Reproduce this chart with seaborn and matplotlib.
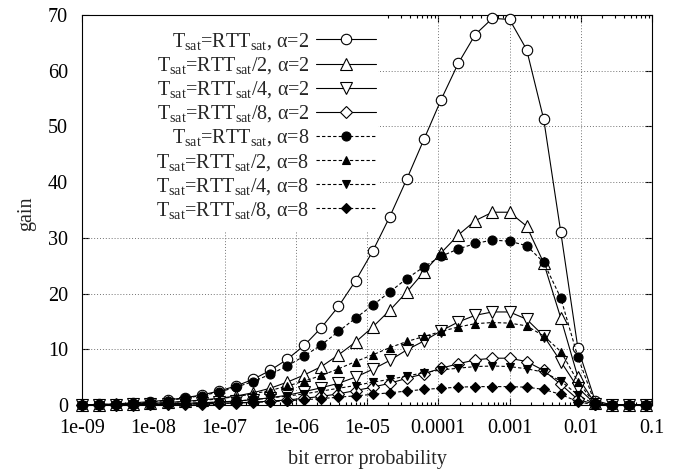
import matplotlib
matplotlib.use("Agg")
import matplotlib.pyplot as plt
import seaborn as sns
import numpy as np
from matplotlib.ticker import LogLocator, NullFormatter, FixedLocator
from matplotlib.patches import Rectangle

# ---------------- data ----------------
ber = [1e-9, 1.738e-9, 3.02e-9, 5.25e-9, 9.12e-9, 1.585e-8, 2.754e-8, 4.786e-8,
       8.318e-8, 1.445e-7, 2.512e-7, 4.365e-7, 7.586e-7, 1.318e-6, 2.291e-6,
       3.981e-6, 6.918e-6, 1.202e-5, 2.089e-5, 3.631e-5, 6.31e-5, 1.096e-4,
       1.905e-4, 3.311e-4, 5.754e-4, 1e-3, 1.738e-3, 3.02e-3, 5.248e-3,
       9.12e-3, 1.585e-2, 2.754e-2, 4.786e-2, 8.318e-2]

gain_a2_t1 = [0, 0.1, 0.2, 0.4, 0.6, 0.9, 1.3, 1.8, 2.5, 3.4, 4.6, 6.2, 8.2, 10.7,
              13.9, 17.7, 22.3, 27.6, 33.8, 40.6, 47.7, 54.8, 61.3, 66.5, 69.4,
              69.2, 63.8, 51.3, 31.0, 10.2, 0.8, 0, 0, 0]
gain_a2_t2 = [0, 0.05, 0.1, 0.2, 0.3, 0.45, 0.65, 0.9, 1.2, 1.6, 2.2, 3.0, 4.1,
              5.4, 6.9, 9.0, 11.3, 14.0, 17.0, 20.3, 23.9, 27.3, 30.5, 33.1, 34.6,
              34.6, 32.1, 25.5, 15.6, 5.0, 0.3, 0, 0, 0]
gain_a2_t4 = [0, 0, 0.05, 0.1, 0.15, 0.2, 0.3, 0.4, 0.55, 0.7, 0.95, 1.3, 1.75,
              2.4, 3.1, 3.9, 5.0, 6.4, 8.0, 9.9, 11.5, 13.3, 14.9, 16.1, 16.7,
              16.7, 15.4, 12.4, 7.8, 3.1, 0.2, 0, 0, 0]
gain_a2_t8 = [0, 0, 0, 0.05, 0.1, 0.1, 0.15, 0.2, 0.3, 0.4, 0.5, 0.7, 0.9, 1.2,
              1.55, 2.0, 2.6, 3.2, 3.9, 4.8, 5.6, 6.6, 7.4, 8.1, 8.4, 8.4, 7.8,
              6.2, 3.7, 1.0, 0.1, 0, 0, 0]
gain_a8_t1 = [0, 0.1, 0.15, 0.3, 0.5, 0.8, 1.2, 1.7, 2.3, 3.2, 4.2, 5.5, 7.0, 8.8,
              10.8, 13.2, 15.6, 17.9, 20.3, 22.7, 24.8, 26.7, 28.0, 29.0, 29.6,
              29.4, 28.6, 25.6, 19.2, 8.6, 0.3, 0, 0, 0]
gain_a8_t2 = [0, 0.05, 0.1, 0.15, 0.25, 0.4, 0.6, 0.8, 1.1, 1.5, 2.0, 2.6, 3.4,
              4.3, 5.3, 6.5, 7.8, 9.0, 10.3, 11.4, 12.3, 13.2, 14.0, 14.6, 14.8,
              14.7, 14.2, 12.4, 9.6, 4.2, 0.2, 0, 0, 0]
gain_a8_t4 = [0, 0, 0.05, 0.1, 0.15, 0.2, 0.3, 0.4, 0.5, 0.7, 0.95, 1.25, 1.6,
              2.0, 2.5, 3.0, 3.5, 4.1, 4.6, 5.2, 5.8, 6.3, 6.6, 6.9, 7.0, 6.9,
              6.5, 5.9, 4.3, 1.8, 0.1, 0, 0, 0]
gain_a8_t8 = [0, 0, 0, 0.05, 0.1, 0.1, 0.15, 0.2, 0.25, 0.35, 0.45, 0.6, 0.75,
              0.95, 1.15, 1.4, 1.65, 1.9, 2.2, 2.5, 2.8, 3.0, 3.2, 3.3, 3.3, 3.3,
              3.2, 2.8, 1.9, 0.6, 0, 0, 0, 0]

labels = [
    r"T$_{sat}$=RTT$_{sat}$, α=2",
    r"T$_{sat}$=RTT$_{sat}$/2, α=2",
    r"T$_{sat}$=RTT$_{sat}$/4, α=2",
    r"T$_{sat}$=RTT$_{sat}$/8, α=2",
    r"T$_{sat}$=RTT$_{sat}$, α=8",
    r"T$_{sat}$=RTT$_{sat}$/2, α=8",
    r"T$_{sat}$=RTT$_{sat}$/4, α=8",
    r"T$_{sat}$=RTT$_{sat}$/8, α=8",
]
series = [gain_a2_t1, gain_a2_t2, gain_a2_t4, gain_a2_t8,
          gain_a8_t1, gain_a8_t2, gain_a8_t4, gain_a8_t8]

xtick_vals = [1e-9, 1e-8, 1e-7, 1e-6, 1e-5, 1e-4, 1e-3, 1e-2, 1e-1]
xtick_labels = ["1e-09", "1e-08", "1e-07", "1e-06", "1e-05", "0.0001", "0.001", "0.01", "0.1"]
ytick_vals = [0, 10, 20, 30, 40, 50, 60, 70]

# ---------------- style ----------------
sns.set_theme(style="ticks")
plt.rcParams.update({
    "font.family": ["Liberation Serif", "DejaVu Serif"],
    "mathtext.fontset": "custom",
    "mathtext.rm": "Liberation Serif",
    "mathtext.it": "Liberation Serif:italic",
    "mathtext.default": "regular",
    "font.size": 14.5,
    "axes.linewidth": 0.8,
    "axes.edgecolor": "black",
    "xtick.color": "black",
    "ytick.color": "black",
})

fig = plt.figure(figsize=(6.78, 4.75), dpi=100)
ax = fig.add_axes([82 / 678, 70 / 475, 570 / 678, 390 / 475])

markers = ["o", "^", "v", "D", "o", "^", "v", "D"]
msizes = [7.5, 8.0, 8.0, 6.0, 6.5, 6.0, 6.0, 5.0]
for i, (lab, vals) in enumerate(zip(labels, series)):
    filled = i >= 4
    sns.lineplot(
        x=ber, y=vals, ax=ax, color="black", linewidth=0.8,
        linestyle=(0, (3.0, 2.0)) if filled else "-",
        marker=markers[i], markersize=msizes[i],
        markerfacecolor="black" if filled else "white",
        markeredgecolor="black", markeredgewidth=0.8,
        label=lab, clip_on=False, zorder=3 + i,
    )

ax.set_xscale("log")
ax.set_xlim(1e-9, 1e-1)
ax.set_ylim(0, 70)
ax.xaxis.set_major_locator(FixedLocator(xtick_vals))
ax.set_xticklabels(xtick_labels)
ax.xaxis.set_minor_locator(LogLocator(base=10, subs=np.arange(2, 10), numticks=20))
ax.xaxis.set_minor_formatter(NullFormatter())
ax.set_yticks(ytick_vals)
ax.tick_params(which="both", direction="in", top=True, right=True, width=0.8)
ax.tick_params(which="major", length=5, pad=10, labelsize=14.5)
ax.tick_params(which="minor", length=2.5)

# dotted grid (gnuplot style)
for xv in [1e-7, 1e-6, 1e-5, 1e-4, 1e-3, 1e-2]:
    ax.axvline(xv, color="0.45", linestyle=(0, (1, 2)), linewidth=0.7, zorder=1)
for yv in [10, 20, 30, 40, 50, 60]:
    ax.axhline(yv, color="0.45", linestyle=(0, (1, 2)), linewidth=0.7, zorder=1)

# opaque key area
ax.add_patch(Rectangle((0, 0.444), 0.519, 0.556, transform=ax.transAxes,
                       facecolor="white", edgecolor="none", zorder=2))

ax.set_xlabel("bit error probability", fontsize=14.5)
ax.set_ylabel("gain", fontsize=14.5)
ax.xaxis.set_label_coords(0.5, -0.115)
ax.yaxis.set_label_coords(-0.08, 0.49)

handles, labs = ax.get_legend_handles_labels()
leg = ax.legend(handles, labs, loc="upper right",
                bbox_to_anchor=(376 / 678, 1 - 31 / 475),
                bbox_transform=fig.transFigure, frameon=False,
                markerfirst=False, handlelength=3.0, handletextpad=0.3,
                labelspacing=0.16, borderpad=0, borderaxespad=0, fontsize=14.5)

fig.savefig("out.png", dpi=100)
